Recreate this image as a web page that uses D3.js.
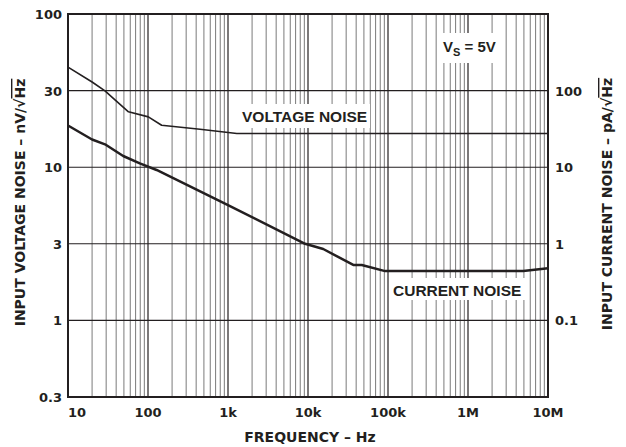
<!DOCTYPE html>
<html>
<head>
<meta charset="utf-8">
<script src="https://cdn.jsdelivr.net/npm/d3@7/dist/d3.min.js"></script>
<style>
  html, body { margin: 0; padding: 0; background: #fff; }
  svg { display: block; }
  .tick-label { font-family: "DejaVu Sans", sans-serif; font-weight: bold; font-size: 13px; fill: #231f20; }
  .axis-title { font-family: "DejaVu Sans", sans-serif; font-weight: bold; font-size: 14px; fill: #231f20; }
  .curve-label { font-family: "Liberation Sans", Arial, sans-serif; font-weight: bold; font-size: 15.5px; fill: #231f20; }
</style>
</head>
<body>
<svg id="chart" width="626" height="447"></svg>
<script>
// Frequency axis (Hz)
const freqDomain = [10, 1e7];
const freqTicks = [10, 100, 1e3, 1e4, 1e5, 1e6, 1e7];
const freqTickLabels = ["10", "100", "1k", "10k", "100k", "1M", "10M"];

// Left axis: voltage noise, nV/√Hz (half-decade grid)
const voltDomain = [Math.pow(10, -0.5), 100];
const voltTicks = [100, Math.pow(10, 1.5), 10, Math.pow(10, 0.5), 1, Math.pow(10, -0.5)];
const voltTickLabels = ["100", "30", "10", "3", "1", "0.3"];

// Right axis: current noise, pA/√Hz
const currDomain = [0.01, 1000];
const currTicks = [100, 10, 1, 0.1];
const currTickLabels = ["100", "10", "1", "0.1"];

// Voltage noise curve
const voltageFreq = [10, 20, 29, 39, 57, 101, 148, 447, 1290, 1e4, 1e5, 1e6, 1e7];
const voltageNoise = [45, 36, 31.5, 27.4, 23, 21.3, 18.8, 17.7, 16.6, 16.6, 16.6, 16.6, 16.6];

// Current noise curve
const currentFreq = [10, 20, 29, 49, 79, 128, 1000, 9200, 15500, 36800, 47000, 92000, 1e6, 4.9e6, 1e7];
const currentNoise = [35, 23, 19.9, 14, 11.2, 9.2, 3.2, 1.0, 0.855, 0.53, 0.53, 0.44, 0.44, 0.44, 0.48];

const svg = d3.select("#chart");
const plot = { left: 68, right: 548, top: 14, bottom: 397 };

const x = d3.scaleLog().domain(freqDomain).range([plot.left, plot.right]);
const yV = d3.scaleLog().domain(voltDomain).range([plot.bottom, plot.top]);
const yI = d3.scaleLog().domain(currDomain).range([plot.bottom, plot.top]);

const grid = svg.append("g");

// vertical minor grid (2..9 of each decade)
const minor = [];
for (let d = 10; d < 1e7; d *= 10) {
  for (let k = 2; k <= 9; k++) minor.push(k * d);
}
grid.selectAll("line.minor").data(minor).enter().append("line")
  .attr("x1", d => x(d)).attr("x2", d => x(d))
  .attr("y1", plot.top).attr("y2", plot.bottom)
  .attr("stroke", "#7a7a7a").attr("stroke-width", 1);

// vertical decade grid
grid.selectAll("line.decade").data(freqTicks.slice(1, -1)).enter().append("line")
  .attr("x1", d => x(d)).attr("x2", d => x(d))
  .attr("y1", plot.top).attr("y2", plot.bottom)
  .attr("stroke", "#231f20").attr("stroke-width", 1.2);

// horizontal grid
grid.selectAll("line.h").data(voltTicks.slice(1, -1)).enter().append("line")
  .attr("x1", plot.left).attr("x2", plot.right)
  .attr("y1", d => yV(d)).attr("y2", d => yV(d))
  .attr("stroke", "#231f20").attr("stroke-width", 1.1);

// white boxes behind in-plot labels
const boxes = [
  { x: 238, y: 104, w: 132, h: 24 },
  { x: 389, y: 278, w: 139, h: 22 },
  { x: 437, y: 33, w: 63, h: 30 }
];
svg.selectAll("rect.box").data(boxes).enter().append("rect")
  .attr("x", d => d.x).attr("y", d => d.y).attr("width", d => d.w).attr("height", d => d.h)
  .attr("fill", "#fff");

// curves
const voltLine = d3.line().x(d => x(d[0])).y(d => yV(d[1]));
const currLine = d3.line().x(d => x(d[0])).y(d => yI(d[1]));

svg.append("path")
  .attr("d", voltLine(d3.zip(voltageFreq, voltageNoise)))
  .attr("fill", "none").attr("stroke", "#231f20").attr("stroke-width", 1.6)
  .attr("stroke-linejoin", "round");

svg.append("path")
  .attr("d", currLine(d3.zip(currentFreq, currentNoise)))
  .attr("fill", "none").attr("stroke", "#231f20").attr("stroke-width", 2.5)
  .attr("stroke-linejoin", "round");

// frame
svg.append("rect")
  .attr("x", plot.left).attr("y", plot.top)
  .attr("width", plot.right - plot.left).attr("height", plot.bottom - plot.top)
  .attr("fill", "none").attr("stroke", "#231f20").attr("stroke-width", 2);

// bottom tick labels
svg.selectAll("text.xt").data(freqTicks).enter().append("text")
  .attr("class", "tick-label")
  .attr("x", d => x(d))
  .attr("y", 416.5)
  .attr("text-anchor", (d, i) => i === 0 ? "start" : "middle")
  .text((d, i) => freqTickLabels[i]);

// left tick labels
svg.selectAll("text.yl").data(voltTicks).enter().append("text")
  .attr("class", "tick-label")
  .attr("x", 62)
  .attr("y", d => yV(d) + 5)
  .attr("text-anchor", "end")
  .text((d, i) => voltTickLabels[i]);

// right tick labels
svg.selectAll("text.yr").data(currTicks).enter().append("text")
  .attr("class", "tick-label")
  .attr("x", 555)
  .attr("y", d => yI(d) + 5)
  .attr("text-anchor", "start")
  .text((d, i) => currTickLabels[i]);

// axis titles
svg.append("text").attr("class", "axis-title")
  .attr("x", 310).attr("y", 441.5).attr("text-anchor", "middle")
  .text("FREQUENCY – Hz");

function unitTitle(label, unit, cx, cy) {
  const t = svg.append("text").attr("class", "axis-title")
    .attr("text-anchor", "middle")
    .attr("transform", `translate(${cx},${cy}) rotate(-90)`);
  t.append("tspan").text(label + " – " + unit + "/√");
  t.append("tspan").style("text-decoration", "overline").text("Hz");
}
unitTitle("INPUT VOLTAGE NOISE", "nV", 25, 202.5);
unitTitle("INPUT CURRENT NOISE", "pA", 612, 204);

// curve labels
svg.append("text").attr("class", "curve-label")
  .attr("x", 242).attr("y", 122.3).text("VOLTAGE NOISE");
svg.append("text").attr("class", "curve-label")
  .attr("x", 393).attr("y", 295.5).text("CURRENT NOISE");

// supply condition
const vs = svg.append("text").attr("class", "curve-label")
  .style("font-size", "15px")
  .attr("x", 443).attr("y", 51.5);
vs.append("tspan").text("V");
vs.append("tspan").attr("dy", 4).style("font-size", "11px").text("S");
vs.append("tspan").attr("dy", -4).text(" = 5V");
</script>
</body>
</html>
